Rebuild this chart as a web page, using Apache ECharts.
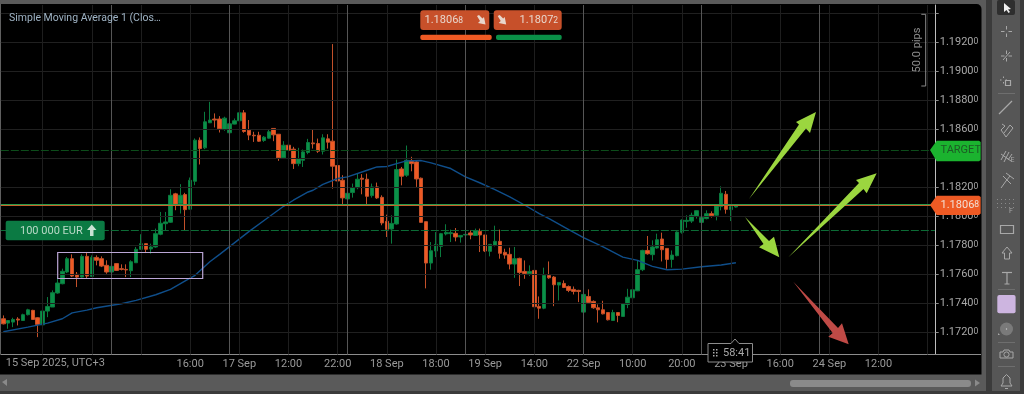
<!DOCTYPE html>
<html>
<head>
<meta charset="utf-8">
<style>html,body{margin:0;padding:0;background:#3a3a3a;overflow:hidden}#c{width:1024px;height:394px}</style>
<script src="https://cdn.jsdelivr.net/npm/echarts@6/dist/echarts.min.js"></script>
</head>
<body>
<div id="c"></div>
<script>
// Candles: [open, close, low, high] in 1/100000 above the base price.
const basePrice = 1.17;
const candleRows = [
[290,255,251,313],[260,278,221,278],[267,285,232,297],[288,281,244,301],[278,318,278,325],
[318,352,313,359],[348,285,283,352],[297,251,163,301],[248,343,244,447],[343,375,301,440],
[371,470,371,486],[468,537,463,578],[532,618,528,636],[613,705,606,717],[705,585,578,735],
[597,578,509,613],[578,721,574,735],[721,585,571,751],[583,714,578,728],[714,694,659,728],
[705,654,647,721],[659,613,601,694],[613,652,611,659],[671,624,620,675],[636,631,624,666],
[631,627,578,666],[622,684,578,694],[677,770,675,786],[770,809,767,874],[809,770,744,809],
[772,786,740,809],[786,878,781,913],[874,950,867,1028],[947,959,901,1028],[957,1143,952,1185],
[1153,1081,1040,1160],[1086,1143,1017,1220],[1148,1044,901,1160],[1047,1247,1044,1266],[1240,1524,1213,1536],
[1524,1466,1356,1543],[1471,1651,1462,1720],[1644,1663,1644,1789],[1670,1663,1612,1709],[1670,1603,1577,1690],
[1598,1676,1589,1686],[1575,1637,1570,1644],[1635,1658,1633,1674],[1658,1713,1651,1720],[1713,1584,1575,1732],
[1593,1559,1524,1663],[1558,1554,1512,1582],[1558,1517,1512,1582],[1522,1545,1512,1552],[1538,1582,1535,1598],
[1605,1561,1517,1605],[1565,1402,1381,1565],[1402,1489,1397,1517],[1489,1455,1413,1501],[1462,1362,1325,1478],
[1362,1397,1344,1471],[1385,1443,1339,1459],[1439,1508,1427,1533],[1505,1499,1466,1600],[1501,1448,1436,1535],
[1448,1540,1425,1565],[1533,1510,1466,1565],[1517,1344,1189,2188],[1349,1242,1206,1570],[1247,1125,1081,1282],
[1118,1157,1113,1178],[1162,1196,1127,1224],[1196,1254,1185,1293],[1261,1254,1150,1289],[1254,1136,1081,1293],
[1141,1201,1127,1224],[1201,1125,1118,1231],[1129,952,936,1143],[963,908,855,1009],[910,949,809,1005],
[945,1321,940,1390],[1325,1275,1212,1339],[1282,1385,1270,1487],[1383,1362,1309,1409],[1374,1256,1201,1381],
[1261,956,952,1266],[961,675,500,961],[675,760,629,820],[758,804,716,889],[790,878,716,883],
[876,887,866,943],[878,885,820,906],[880,855,825,917],[855,866,816,866],[869,873,864,873],
[883,869,839,901],[866,899,864,913],[894,869,751,913],[869,758,751,869],[756,804,721,804],
[797,825,790,933],[825,742,705,906],[749,730,705,774],[735,668,631,781],[668,705,573,786],
[707,610,516,712],[617,603,566,693],[601,617,585,659],[624,373,354,624],[375,363,290,444],
[363,589,356,643],[589,573,566,686],[578,525,377,585],[523,541,416,543],[534,506,502,555],
[513,486,474,520],[493,479,458,513],[486,479,405,490],[336,458,336,458],[444,403,393,493],
[410,366,359,417],[366,352,264,389],[352,324,320,414],[333,283,278,333],[278,333,276,352],
[333,313,266,333],[306,393,306,393],[389,439,363,497],[435,490,428,550],[483,629,481,689],
[629,762,619,767],[762,739,733,862],[733,786,693,832],[779,836,774,878],[841,767,686,885],
[776,700,636,776],[700,730,643,762],[726,889,721,894],[887,972,878,977],[963,970,919,1005],
[965,1005,952,1023],[998,1037,982,1039],[956,989,924,989],[982,1016,977,1039],[1016,1002,989,1032],
[1005,1069,970,1074],[1065,1157,1039,1205],[1150,1046,1016,1173],[1044,1065,965,1074],[1062,1069,1058,1074]
];
// Moving average, read at the candle indexes listed in smaIndex.
const smaIndex = [0,5,9,12,14,17,19,24,27,31,34,37,39,42,44,47,50,54,57,59,62,63,65,68,70,74,76,78,80,82,85,87,91,94,97,100,103,106,109,111,115,118,122,126,129,132,135,138,142,146,149];
const smaValues = [200,232,260,290,331,350,366,394,417,456,493,551,590,684,735,814,894,993,1067,1109,1166,1178,1219,1259,1270,1316,1339,1342,1362,1381,1383,1367,1328,1270,1228,1182,1132,1076,1016,982,906,850,786,716,693,652,629,633,649,661,677];
// Axis content.
const slotCount = 190;
const tickIndex = [8,18,28,38,48,58,68,78,88,98,108,118,128,138,148,158,168,178,188];
const tickLabels = ["","","","16:00","17 Sep","12:00","22:00","18 Sep","18:00","19 Sep","14:00","22 Sep","10:00","20:00","23 Sep","16:00","24 Sep","12:00",""];
const dayIndex = [22,46,70,94,118,142,166];
const priceTicks = [1.1720,1.1740,1.1760,1.1780,1.1800,1.1820,1.1840,1.1860,1.1880,1.1900,1.1920,1.1940];
const priceLabels = [1.1720,1.1740,1.1760,1.1780,1.1800,1.1820,1.1840,1.1860,1.1880,1.1900,1.1920];
const targetLevel = 1.18455, lowerLevel = 1.1790, askLevel = 1.18078, bidLevel = 1.18071;

const categories = Array.from({length:slotCount},(_,i)=>{const k=tickIndex.indexOf(i);return k>=0?tickLabels[k]:'';});
const price = p => +(basePrice + p/100000).toFixed(5);
const candleData = candleRows.map(r=>r.map(price));
const smaData = candleRows.map((_,i)=>{const k=smaIndex.indexOf(i);return k>=0?price(smaValues[k]):null;});

const UP='#0a9048', DOWN='#ee5a24', UPWICK='#0a7a3e', DOWNWICK='#c2502a', FONT='Roboto, "Liberation Sans", sans-serif';
const icon='#a8a8a8';
const E=[];
const rect=(x,y,w,h,fill,r,z,stroke)=>E.push({type:'rect',z:z===undefined?100:z,silent:true,shape:{x,y,width:w,height:h,r:r||0},style:stroke?{fill:fill,stroke:stroke,lineWidth:1.2}:{fill}});
const poly=(pts,fill)=>E.push({type:'polygon',z:100,silent:true,shape:{points:pts},style:{fill}});
const pl=(pts,stroke,w)=>E.push({type:'polyline',z:101,silent:true,shape:{points:pts},style:{stroke:stroke||icon,lineWidth:w||1,fill:null}});
const txt=(x,y,t,fill,size,extra)=>E.push(Object.assign({type:'text',z:102,silent:true,x,y,style:Object.assign({text:t,fill,font:size+'px '+FONT,textVerticalAlign:'middle'},extra&&extra.style||{})},extra&&extra.el||{}));
const mixed=(x,y,big,small,fill,size)=>E.push({type:'text',z:102,silent:true,x,y,style:{text:'{a|'+big+'}{b|'+small+'}',textVerticalAlign:'middle',rich:{a:{fill,font:size+'px '+FONT},b:{fill,font:(size-2.5)+'px '+FONT}}}});
const downArrow=(x,y,fill)=>poly([[x-4,y-4],[x-2,y-5],[x+1.5,y-1.5],[x+3,y-3],[x+4.5,y+4.5],[x-3,y+3],[x-1,y+1]],fill);

// chrome behind the chart
rect(0,0,1024,394,'#3b3b3b',0,-5);
rect(0,0,986,391,'#5a5a5a',0,-4);
rect(0,4,981.5,370.5,'#000',[0,5,0,0],-3);
rect(0,4,1,350,'#5f5f5f',0,-2);
rect(992,0,28,391,'#565656',0,-4);
// scrollbar
rect(790,380,181,7,'#8a8a8a',3);
poly([[2,382],[7,379],[7,386]],'#8a8a8a');
poly([[980,383],[975,379.5],[975,386.5]],'#8a8a8a');
// axis extension
pl([[935,354.5],[981,354.5]],'#8c8c8c',1);
// annotations
rect(57.7,252.5,145,26,'transparent',0,100,'#bba6d6');
poly([[749,199],[799,124.5],[796,122],[816,112],[810,133],[806,128.5]],'#9bd63f');
poly([[788.3,257.3],[859,183],[856,180],[876.7,173.3],[866.7,193.3],[863.5,189]],'#9bd63f');
poly([[745,217],[769,241],[774,236.7],[779.3,257.3],[759,247.3],[763.5,244]],'#9bd63f');
poly([[793.3,281.7],[838,328],[842,323.3],[848.7,344.3],[828.3,336.7],[832.7,333]],'#bf4a46');
// order button
rect(5.7,220.7,99,19.5,'#0b7a43',2);
txt(20,230.8,'100 000 EUR','#b9d9c7',11);
poly([[91.7,224.5],[96.5,230],[93.5,230],[93.5,236],[90,236],[90,230],[87,230]],'#c9e3d4');
// study title
txt(9,18.5,'Simple Moving Average 1 (Clos…','#9fb3c4',10.5);
// top quote buttons
rect(420.3,10.3,69,19.7,'#c7502a',3);
rect(493.7,10.3,68,19.7,'#c7502a',3);
rect(420.3,34.7,71.4,5.3,'#ee5a24',2);
rect(496,34.7,65.7,5.3,'#0a9048',2);
mixed(424.5,20.5,'1.1806','8','#e8d6cc',11);
mixed(519.5,20.5,'1.1807','2','#e8d6cc',11);
downArrow(481,20,'#e8d6cc');
downArrow(501.7,20,'#e8d6cc');
// tags on the price scale
poly([[930,150],[936.7,140.7],[979,140.7],[980.7,142],[980.7,160],[979,161.3],[936.7,161.3]],'#1bb32f');
txt(940.5,150,'TARGET','#1d5a25',11);
poly([[930,205],[936.7,195.7],[979,195.7],[980.7,197],[980.7,213.5],[979,215],[936.7,215]],'#ee5a24');
mixed(940.5,205,'1.1806','8','#f2ddd2',11);
// pips ruler
pl([[921.3,14.3],[925.7,14.3],[925.7,86],[921.3,86]],'#8a8a8a',1);
E.push({type:'text',z:102,silent:true,x:917,y:50,rotation:Math.PI/2,style:{text:'50.0 pips',fill:'#8f8f8f',font:'11px '+FONT,textAlign:'center',textVerticalAlign:'middle'}});
// timer
E.push({type:'polygon',z:101,silent:true,shape:{points:[[708,343.5],[731,343.5],[735,339],[739,343.5],[752.5,343.5],[752.5,362],[708,362]]},style:{fill:'#000',stroke:'#8c8c8c',lineWidth:1}});
[[713,349],[716,349],[713,352],[716,352],[713,355],[716,355]].forEach(p=>E.push({type:'rect',z:102,silent:true,shape:{x:p[0],y:p[1],width:1.5,height:1.5},style:{fill:'#aaa'}}));
txt(723,353,'58:41','#a8a8a8',11);
// first date label
txt(5.7,363.5,'15 Sep 2025, UTC+3','#9a9a9a',11);
// toolbar
rect(997,0,18,15,'#2e2e2e',2);
poly([[1004,3],[1004,12],[1006.5,10],[1008.5,13],[1010,12],[1008,9.5],[1011,9]],'#f0f0f0');
const cross=(x,y,a)=>{pl([[x-a,y],[x-2,y]]);pl([[x+2,y],[x+a,y]]);pl([[x,y-a],[x,y-2]]);pl([[x,y+2],[x,y+a]]);};
cross(1006.5,31.5,5.5);cross(1006.5,56,5.5);pl([[1003,60],[1010,52]]);
cross(1003.5,80,3.5);rect(1005.5,80.5,5,5,'transparent',0,101,icon);
pl([[998,93.5],[1015,93.5]],'#6e6e6e');pl([[998,289.5],[1015,289.5]],'#6e6e6e');pl([[998,342.5],[1015,342.5]],'#6e6e6e');pl([[998,366.5],[1015,366.5]],'#6e6e6e');
pl([[999,114],[1012,101]],icon,1.2);
pl([[1002,124],[1005,126],[1001,130],[1004,134],[1006,137],[1013,128],[1010,125],[1004,133]]);
pl([[1001,160],[1006,151]]);pl([[1004,162],[1009,152]]);pl([[1008,160],[1012,154]]);pl([[1001,154],[1011,161]]);txt(1010.5,160,'E',icon,7);
pl([[1001,188],[1006,181],[1010,176]]);pl([[1003,176],[1011,184]]);pl([[1006,173],[1014,179]]);
[997,1001,1005,1009,1013].forEach(x=>[199,203,207].forEach(y=>rect(x,y,1,1,'#8a8a8a')));txt(1009,211,'F',icon,7);
rect(1000.5,225.5,13,8,'transparent',0,101,icon);
pl([[1007,247],[1012,253],[1009.5,253],[1009.5,259],[1004.5,259],[1004.5,253],[1002,253],[1007,247]]);
pl([[1002,272.5],[1012,272.5]],icon,1.2);pl([[1007,272.5],[1007,284]],icon,1.2);pl([[1004.5,284],[1009.5,284]],icon,1);
rect(997.3,295,18.3,18.3,'#cdb5e0',2);
E.push({type:'circle',z:100,silent:true,shape:{cx:1006.5,cy:329,r:6.5},style:{fill:'#7a7a7a'}});
E.push({type:'circle',z:100,silent:true,shape:{cx:1006.5,cy:329,r:0.7},style:{fill:'#ccc'}});
poly([[998,333],[1000,335],[998,335]],icon);
pl([[1000,352],[1003,352],[1004,350],[1009,350],[1010,352],[1013,352],[1013,358],[1000,358],[1000,352]]);
E.push({type:'circle',z:101,silent:true,shape:{cx:1006.5,cy:354.5,r:2.6},style:{fill:'none',stroke:icon,lineWidth:1}});
pl([[1001,386],[1003,383],[1003,378],[1006.5,374.5],[1010,378],[1010,383],[1012,386],[1001,386]]);
pl([[1005,388.5],[1008,388.5]]);

const hLines = priceTicks.map(v=>({yAxis:v,lineStyle:{color:'#202020',width:1,type:'solid'}}));
const vMinor = tickIndex.map(i=>({xAxis:i,lineStyle:{color:'#1e1e1e',width:1,type:'solid'}}));
const vDay = dayIndex.map(i=>({xAxis:i,lineStyle:{color:'#565656',width:1,type:'solid'}}));
const mlBase = {silent:true,precision:6,symbol:['none','none'],label:{show:false},animation:false,emphasis:{disabled:true}};

const chart = echarts.init(document.getElementById('c'),null,{renderer:'canvas',width:1024,height:394});
chart.setOption({
  animation:false,
  backgroundColor:'transparent',
  textStyle:{fontFamily:FONT},
  grid:{left:0.85,top:5,width:934.2,height:349.5,containLabel:false},
  xAxis:{type:'category',data:categories,boundaryGap:true,
    axisLine:{show:true,lineStyle:{color:'#8c8c8c',width:1}},
    axisTick:{show:true,inside:true,length:3,alignWithLabel:true,interval:i=>tickIndex.includes(i),lineStyle:{color:'#8c8c8c'}},
    axisLabel:{show:true,interval:i=>tickIndex.includes(i),color:'#9a9a9a',fontSize:11,fontFamily:FONT,margin:4,hideOverlap:false},
    splitLine:{show:false}},
  yAxis:{type:'value',position:'right',min:1.17043,max:1.19458,scale:true,offset:0.65,
    axisLine:{show:true,onZero:false,lineStyle:{color:'#bdbdbd',width:1}},
    axisTick:{show:true,length:3,customValues:priceTicks,lineStyle:{color:'#8c8c8c'}},
    axisLabel:{show:true,customValues:priceLabels,margin:4,showMinLabel:true,showMaxLabel:true,
      formatter:v=>'{a|'+v.toFixed(4)+'}{b|0}',
      rich:{a:{color:'#a8a8a8',fontSize:11,fontFamily:FONT},b:{color:'#a8a8a8',fontSize:8.5,fontFamily:FONT}}},
    splitLine:{show:false}},
  series:[
    {type:'line',name:'grid',data:[],z:1,silent:true,markLine:Object.assign({},mlBase,{data:hLines.concat(vMinor,vDay)})},
    {type:'candlestick',name:'EURUSD',data:candleData,barWidth:4,z:3,silent:true,
     itemStyle:{color:UP,color0:DOWN,borderColor:UPWICK,borderColor0:DOWNWICK,borderWidth:1}},
    {type:'line',name:'Simple Moving Average 1',data:smaData,connectNulls:true,showSymbol:false,symbol:'none',z:4,silent:true,
     lineStyle:{color:'#0f4e8a',width:1.4}},
    {type:'line',name:'levels',data:[],z:5,silent:true,markLine:Object.assign({},mlBase,{data:[
      {yAxis:targetLevel,lineStyle:{color:'#0c4c1a',width:1,type:[8,2]}},
      {yAxis:lowerLevel,lineStyle:{color:'#0c6c36',width:1,type:[8,2]}},
      {yAxis:bidLevel,lineStyle:{color:'#c8622a',width:1,type:'solid'}},
      {yAxis:askLevel,lineStyle:{color:'#2a9a4c',width:1,type:'solid'}}
    ]})}
  ],
  graphic:{elements:E}
});
</script>
</body>
</html>
